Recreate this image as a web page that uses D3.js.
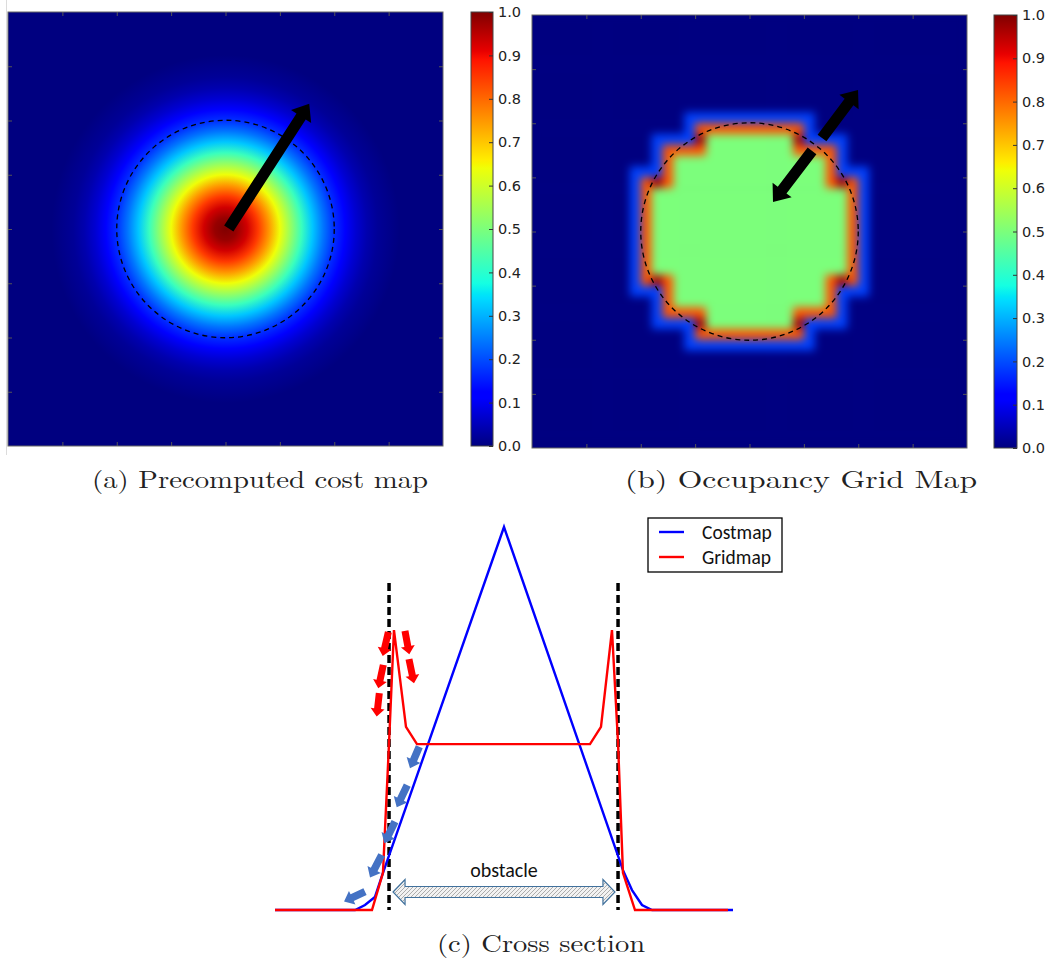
<!DOCTYPE html>
<html>
<head>
<meta charset="utf-8">
<script src="https://cdn.jsdelivr.net/npm/d3@7"></script>
<style>
  body { margin: 0; background: #fff; }
</style>
</head>
<body>
<svg id="fig" width="1054" height="970"></svg>
<script>
// ---------------- data ----------------
// (a) radial cost profile: distance from the centre (grid cells) -> cost
var costRadius = [0, 1, 2, 3, 4, 5, 6, 7, 8, 9, 10, 11, 12, 13, 14, 16];
var costValue  = [1.0, 0.98, 0.93, 0.85, 0.75, 0.64, 0.53, 0.42, 0.32, 0.24, 0.17, 0.11, 0.07, 0.04, 0.02, 0.0];

// (b) occupied cells of the 40x40 grid, per row: [row, first col, last col]
var occRows = [
  [10, 15, 24], [11, 15, 24],
  [12, 12, 27], [13, 12, 27], [14, 12, 27],
  [15, 10, 29], [16, 10, 29], [17, 10, 29], [18, 10, 29], [19, 10, 29],
  [20, 10, 29], [21, 10, 29], [22, 10, 29], [23, 10, 29], [24, 10, 29],
  [25, 12, 27], [26, 12, 27], [27, 12, 27],
  [28, 15, 24], [29, 15, 24]
];
// hot cells on the rim: [row, col]
var occCorners = [[11, 15], [11, 24], [15, 11], [15, 28], [24, 11], [24, 28], [28, 15], [28, 24]];
var levelFree = 0.0;
var levelHalo = 0.19;
var levelInside = 0.5;
var levelEdge = 0.82;
var levelCorner = 0.97;

var gridTicks = [5, 10, 15, 20, 25, 30, 35];
var cbTicks = [0, 0.1, 0.2, 0.3, 0.4, 0.5, 0.6, 0.7, 0.8, 0.9, 1.0];

// circle drawn on both maps (grid units)
var circleCenter = [20, 20];
var circleRadius = 10;
// arrows on the maps: [x tail, y tail, x tip, y tip] (grid units)
var costArrows = [[20.3, 19.95, 27.7, 8.46]];
var occArrows = [[26.67, 11.36, 29.98, 6.93], [25.75, 12.56, 22.16, 17.27]];

// (c) cross section
var costX = [0, 7.0, 7.86, 8.73, 9.43, 20, 30.39, 31.18, 32.05, 32.93, 40];
var costY = [0, 0, 0.013, 0.034, 0.097, 1.0, 0.104, 0.052, 0.013, 0, 0];
var gridX = [0, 8.47, 9.43, 9.96, 10.39, 11.44, 12.40, 27.51, 28.47, 29.43, 29.96, 30.39, 31.44, 39.56];
var gridY = [0, 0, 0.097, 0.436, 0.731, 0.478, 0.433, 0.433, 0.478, 0.731, 0.436, 0.097, 0, 0];
var wallX = [9.96, 29.96];
var wallTop = 0.854;
var obstacleSpan = [10.31, 29.69];
var obstacleLevel = 0.047;
var redArrows = [[9.90, 0.726, 9.41, 0.663], [9.46, 0.640, 9.02, 0.579], [9.11, 0.566, 8.88, 0.505],
                 [11.35, 0.729, 11.73, 0.668], [11.70, 0.655, 12.14, 0.592]];
var blueArrows = [[12.60, 0.426, 11.79, 0.370], [11.55, 0.326, 10.63, 0.268], [10.48, 0.231, 9.55, 0.174],
                  [9.32, 0.144, 8.30, 0.085], [7.86, 0.048, 6.03, 0.022]];
var seriesNames = ["Costmap", "Gridmap"];
var captions = ["(a) Precomputed cost map", "(b) Occupancy Grid Map", "(c) Cross section"];

// ---------------- colormap (matplotlib jet) ----------------
var jetStops = [0, 0.11, 0.125, 0.34, 0.35, 0.375, 0.64, 0.65, 0.66, 0.89, 0.91, 1];
var jetColors = ["#000080", "#0000ff", "#0000ff", "#00dbff", "#00e6f7", "#15ffe2",
                 "#efff08", "#f7f600", "#ffec00", "#ff1300", "#e80000", "#800000"];
var jet = d3.scaleLinear().domain(jetStops).range(jetColors).interpolate(d3.interpolateRgb).clamp(true);

var svg = d3.select("#fig");
var defs = svg.append("defs");

var tickFont = "'DejaVu Sans', 'Bitstream Vera Sans', sans-serif";
var serifFont = "'Latin Modern Roman', 'CMU Serif', 'Liberation Serif', serif";
var officeFont = "Carlito, Calibri, 'Open Sans', sans-serif";

// block arrow polygon from tail to tip (pixels)
function blockArrow(x0, y0, x1, y1, w, hw, hl) {
  var dx = x1 - x0, dy = y1 - y0, L = Math.hypot(dx, dy);
  var ux = dx / L, uy = dy / L, nx = -uy, ny = ux;
  var bx = x1 - ux * hl, by = y1 - uy * hl;
  var pts = [
    [x0 + nx * w / 2, y0 + ny * w / 2], [bx + nx * w / 2, by + ny * w / 2],
    [bx + nx * hw / 2, by + ny * hw / 2], [x1, y1],
    [bx - nx * hw / 2, by - ny * hw / 2], [bx - nx * w / 2, by - ny * w / 2],
    [x0 - nx * w / 2, y0 - ny * w / 2]
  ];
  return d3.line()(pts) + "Z";
}

// vertical jet gradient for the colorbars
var vGrad = defs.append("linearGradient").attr("id", "jetV")
  .attr("x1", 0).attr("y1", 1).attr("x2", 0).attr("y2", 0);
jetStops.forEach(function(s, i) {
  vGrad.append("stop").attr("offset", s).attr("stop-color", jetColors[i]);
});

// faint page edge left of panel (a)
svg.append("line").attr("x1", 6.5).attr("x2", 6.5).attr("y1", 0).attr("y2", 455)
  .attr("stroke", "#dcdcdc").attr("stroke-width", 1);

// ---------------- heat map panels ----------------
function panelScales(p) {
  return {
    x: d3.scaleLinear().domain([0, 40]).range([p.x, p.x + p.w]),
    y: d3.scaleLinear().domain([0, 40]).range([p.y, p.y + p.h])
  };
}

function drawOverlay(p, s, arrows) {
  svg.append("circle")
    .attr("cx", s.x(circleCenter[0])).attr("cy", s.y(circleCenter[1]))
    .attr("r", s.x(circleRadius) - s.x(0))
    .attr("fill", "none").attr("stroke", "#000").attr("stroke-width", 1.3)
    .attr("stroke-dasharray", "5,4");

  svg.selectAll(null).data(arrows).enter().append("path")
    .attr("d", function(a) { return blockArrow(s.x(a[0]), s.y(a[1]), s.x(a[2]), s.y(a[3]), 11, 24, 15); })
    .attr("fill", "#000");
}

function drawFrame(p, s) {
  var ax = [
    [d3.axisTop(s.x), 0, p.y], [d3.axisBottom(s.x), 0, p.y + p.h],
    [d3.axisLeft(s.y), p.x, 0], [d3.axisRight(s.y), p.x + p.w, 0]
  ];
  ax.forEach(function(a) {
    svg.append("g").attr("transform", "translate(" + a[1] + "," + a[2] + ")")
      .call(a[0].tickValues(gridTicks).tickSize(-4).tickFormat(""))
      .call(function(g) { g.select(".domain").remove(); })
      .selectAll("line").attr("stroke", "#555");
  });
  svg.append("rect").attr("x", p.x).attr("y", p.y).attr("width", p.w).attr("height", p.h)
    .attr("fill", "none").attr("stroke", "#666").attr("stroke-width", 1);
}

function drawColorbar(cb) {
  var cs = d3.scaleLinear().domain([0, 1]).range([cb.y + cb.h, cb.y]);
  svg.append("rect").attr("x", cb.x).attr("y", cb.y).attr("width", cb.w).attr("height", cb.h)
    .attr("fill", "url(#jetV)").attr("stroke", "#444").attr("stroke-width", 1);
  var g = svg.append("g").attr("transform", "translate(" + (cb.x + cb.w) + ",0)")
    .call(d3.axisRight(cs).tickValues(cbTicks).tickSize(-4).tickPadding(5).tickFormat(d3.format(".1f")));
  g.select(".domain").remove();
  g.selectAll("line").attr("stroke", "#333");
  g.selectAll("text").attr("font-family", tickFont).attr("font-size", 14.5).attr("fill", "#222");
}

// ---- panel (a) ----
var pA = {x: 8, y: 12, w: 435, h: 434};
var sA = panelScales(pA);
var rGrad = defs.append("radialGradient").attr("id", "costGrad")
  .attr("gradientUnits", "userSpaceOnUse")
  .attr("cx", sA.x(circleCenter[0])).attr("cy", sA.y(circleCenter[1]))
  .attr("r", sA.x(d3.max(costRadius)) - sA.x(0));
costRadius.forEach(function(r, i) {
  rGrad.append("stop").attr("offset", r / d3.max(costRadius)).attr("stop-color", jet(costValue[i]));
});
svg.append("rect").attr("x", pA.x).attr("y", pA.y).attr("width", pA.w).attr("height", pA.h)
  .attr("fill", "url(#costGrad)");
drawOverlay(pA, sA, costArrows);
drawFrame(pA, sA);
drawColorbar({x: 471, y: 12, w: 22, h: 434});

// ---- panel (b) ----
var pB = {x: 532, y: 15, w: 435, h: 433};
var sB = panelScales(pB);

var occupied = new Set();
occRows.forEach(function(r) {
  for (var c = r[1]; c <= r[2]; c++) occupied.add(r[0] * 40 + c);
});
var corners = new Set(occCorners.map(function(k) { return k[0] * 40 + k[1]; }));
function isOcc(r, c) { return occupied.has(r * 40 + c); }
function neighbours(r, c, want) {
  for (var dr = -1; dr <= 1; dr++)
    for (var dc = -1; dc <= 1; dc++)
      if ((dr || dc) && isOcc(r + dr, c + dc) === want) return true;
  return false;
}
var cells = d3.cross(d3.range(40), d3.range(40)).map(function(rc) {
  var r = rc[0], c = rc[1], v;
  if (isOcc(r, c)) {
    v = corners.has(r * 40 + c) ? levelCorner : (neighbours(r, c, false) ? levelEdge : levelInside);
  } else {
    v = neighbours(r, c, true) ? levelHalo : levelFree;
  }
  return {row: r, col: c, value: v};
});

defs.append("clipPath").attr("id", "clipB").append("rect")
  .attr("x", pB.x).attr("y", pB.y).attr("width", pB.w).attr("height", pB.h);
var blur = defs.append("filter").attr("id", "gridBlur")
  .attr("filterUnits", "userSpaceOnUse")
  .attr("x", pB.x - 20).attr("y", pB.y - 20).attr("width", pB.w + 40).attr("height", pB.h + 40)
  .attr("color-interpolation-filters", "sRGB");
blur.append("feGaussianBlur").attr("stdDeviation", 4.2);

var gB = svg.append("g").attr("clip-path", "url(#clipB)");
gB.append("rect").attr("x", pB.x).attr("y", pB.y).attr("width", pB.w).attr("height", pB.h)
  .attr("fill", jet(0));
gB.append("g").attr("filter", "url(#gridBlur)")
  .selectAll("rect").data(cells).enter().append("rect")
  .attr("x", function(d) { return sB.x(d.col); })
  .attr("y", function(d) { return sB.y(d.row); })
  .attr("width", sB.x(1) - sB.x(0) + 0.6)
  .attr("height", sB.y(1) - sB.y(0) + 0.6)
  .attr("fill", function(d) { return jet(d.value); });
drawOverlay(pB, sB, occArrows);
drawFrame(pB, sB);
drawColorbar({x: 994, y: 15, w: 23, h: 433});

// ---------------- panel (c): cross section ----------------
var xC = d3.scaleLinear().domain([0, 40]).range([275, 733]);
var yC = d3.scaleLinear().domain([0, 1]).range([910, 527]);
var lineC = d3.line().x(function(d) { return xC(d[0]); }).y(function(d) { return yC(d[1]); });

// hatch pattern for the obstacle arrow
var hatch = defs.append("pattern").attr("id", "hatch").attr("patternUnits", "userSpaceOnUse")
  .attr("width", 4).attr("height", 4);
hatch.append("rect").attr("width", 4).attr("height", 4).attr("fill", "#f2f2f2");
hatch.append("path").attr("d", "M-1,1 l2,-2 M0,4 l4,-4 M3,5 l2,-2")
  .attr("stroke", "#9a9a9a").attr("stroke-width", 0.8);

// obstacle double arrow
(function() {
  var xl = xC(obstacleSpan[0]), xr = xC(obstacleSpan[1]), yc = yC(obstacleLevel);
  var sh = 5.5, hh = 12.5, hl = 12;
  var pts = [[xl, yc], [xl + hl, yc - hh], [xl + hl, yc - sh], [xr - hl, yc - sh], [xr - hl, yc - hh],
             [xr, yc], [xr - hl, yc + hh], [xr - hl, yc + sh], [xl + hl, yc + sh], [xl + hl, yc + hh]];
  svg.append("path").attr("d", d3.line()(pts) + "Z")
    .attr("fill", "url(#hatch)").attr("stroke", "#41719c").attr("stroke-width", 1.2);
  svg.append("text").attr("x", xC(20)).attr("y", yC(0.086))
    .attr("text-anchor", "middle").attr("font-family", officeFont).attr("font-size", 20)
    .attr("fill", "#111").text("obstacle");
})();

// walls of the obstacle
svg.selectAll(null).data(wallX).enter().append("line")
  .attr("x1", function(d) { return xC(d); }).attr("x2", function(d) { return xC(d); })
  .attr("y1", yC(wallTop)).attr("y2", yC(0))
  .attr("stroke", "#000").attr("stroke-width", 3.5).attr("stroke-dasharray", "8,4");

// profiles
svg.append("path").datum(d3.zip(costX, costY)).attr("d", lineC)
  .attr("fill", "none").attr("stroke", "#0000ff").attr("stroke-width", 2.4);
svg.append("path").datum(d3.zip(gridX, gridY)).attr("d", lineC)
  .attr("fill", "none").attr("stroke", "#ff0000").attr("stroke-width", 2.4);

// annotation arrows
svg.selectAll(null).data(redArrows).enter().append("path")
  .attr("d", function(a) { return blockArrow(xC(a[0]), yC(a[1]), xC(a[2]), yC(a[3]), 7, 14, 8); })
  .attr("fill", "#ff0000");
svg.selectAll(null).data(blueArrows).enter().append("path")
  .attr("d", function(a) { return blockArrow(xC(a[0]), yC(a[1]), xC(a[2]), yC(a[3]), 7.5, 15, 9); })
  .attr("fill", "#4472c4");

// legend
var legend = svg.append("g").attr("transform", "translate(648,518)");
legend.append("rect").attr("width", 134).attr("height", 54)
  .attr("fill", "#fff").attr("stroke", "#000").attr("stroke-width", 1.3);
var legColors = ["#0000ff", "#ff0000"];
seriesNames.forEach(function(n, i) {
  var y = 14 + i * 25;
  legend.append("line").attr("x1", 11).attr("x2", 36).attr("y1", y).attr("y2", y)
    .attr("stroke", legColors[i]).attr("stroke-width", 2.4);
  legend.append("text").attr("x", 54).attr("y", y + 6.5)
    .attr("font-family", officeFont).attr("font-size", 19.5).attr("fill", "#111").text(n);
});

// ---------------- captions ----------------
var capPos = [[92, 336, 488], [625, 352, 488], [437, 208, 952]];
captions.forEach(function(t, i) {
  svg.append("text").attr("x", capPos[i][0]).attr("y", capPos[i][2])
    .attr("textLength", capPos[i][1]).attr("lengthAdjust", "spacingAndGlyphs")
    .attr("font-family", serifFont).attr("font-size", 24.5).attr("fill", "#222").text(t);
});
</script>
</body>
</html>
